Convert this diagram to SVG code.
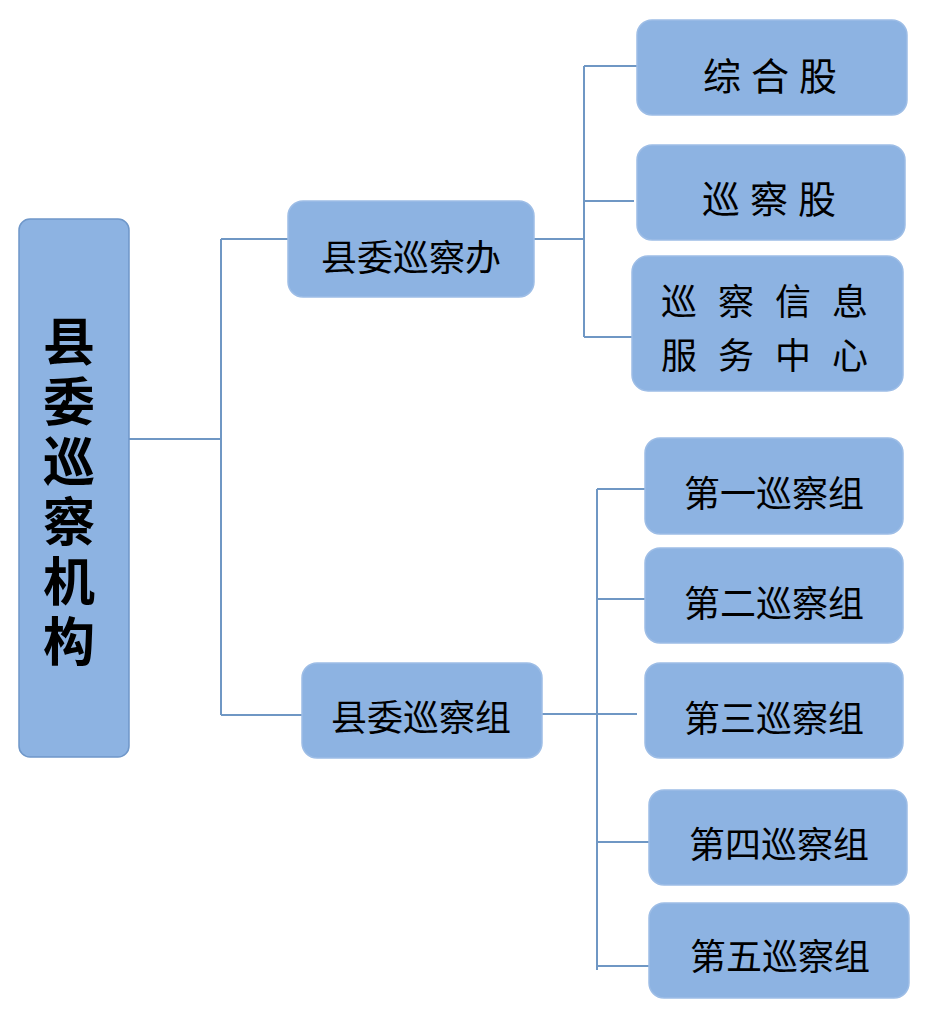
<svg xmlns="http://www.w3.org/2000/svg" width="926" height="1015" viewBox="0 0 926 1015">
<style>
.box{fill:#8db3e2;stroke:#9dbde6;stroke-width:1.5}
.main{fill:#8db3e2;stroke:#6f97c9;stroke-width:1.5}
.ln{stroke:#6f97c4;stroke-width:2;fill:none}
.t{font-family:"Noto Sans CJK SC","Noto Sans CJK TC",sans-serif;fill:#000;dominant-baseline:central}
.m{font-size:36px;text-anchor:middle}
.big{font-family:"Noto Sans CJK SC","Noto Sans CJK TC",sans-serif;fill:#000;font-size:52px;font-weight:bold;writing-mode:vertical-rl;letter-spacing:8px}
</style>
<rect width="926" height="1015" fill="#fff"/>
<g id="connectors">
<path class="ln" d="M129 439H221M221 239V715M221 239H288M221 715H302"/>
<path class="ln" d="M534 239H584M584 66V337M584 66H637M584 201H634M584 337H632"/>
<path class="ln" d="M542 714H597M597 489V970M597 489H645M597 599H645M597 714H637M597 842H649M597 966H649"/>
</g>
<g id="root">
<rect class="main" x="19" y="219" width="110" height="538" rx="11"/>
<text class="big" x="69" y="315">县委巡察机构</text>
</g>
<g id="office">
<rect class="box" x="288" y="201" width="246" height="96" rx="15"/>
<text class="t m" x="411" y="255">县委巡察办</text>
</g>
<g id="groups">
<rect class="box" x="302" y="663" width="240" height="95" rx="15"/>
<text class="t m" x="421" y="715">县委巡察组</text>
</g>
<g id="zonghe">
<rect class="box" x="637" y="20" width="270" height="95" rx="15"/>
<text class="t" x="703" y="73" font-size="38" letter-spacing="10">综合股</text>
</g>
<g id="xunchagu">
<rect class="box" x="637" y="145" width="268" height="95" rx="15"/>
<text class="t" x="702" y="196" font-size="38" letter-spacing="10">巡察股</text>
</g>
<g id="info">
<rect class="box" x="632" y="256" width="271" height="135" rx="16"/>
<text class="t" x="661" y="299" font-size="36" letter-spacing="21">巡察信息</text>
<text class="t" x="661" y="353" font-size="36" letter-spacing="21">服务中心</text>
</g>
<g id="g1">
<rect class="box" x="645" y="438" width="258" height="96" rx="15"/>
<text class="t m" x="774" y="491">第一巡察组</text>
</g>
<g id="g2">
<rect class="box" x="645" y="548" width="258" height="95" rx="15"/>
<text class="t m" x="774" y="601">第二巡察组</text>
</g>
<g id="g3">
<rect class="box" x="645" y="663" width="258" height="95" rx="15"/>
<text class="t m" x="774" y="716">第三巡察组</text>
</g>
<g id="g4">
<rect class="box" x="649" y="790" width="258" height="95" rx="15"/>
<text class="t m" x="779" y="842">第四巡察组</text>
</g>
<g id="g5">
<rect class="box" x="649" y="903" width="260" height="95" rx="15"/>
<text class="t m" x="780" y="954">第五巡察组</text>
</g>
</svg>
